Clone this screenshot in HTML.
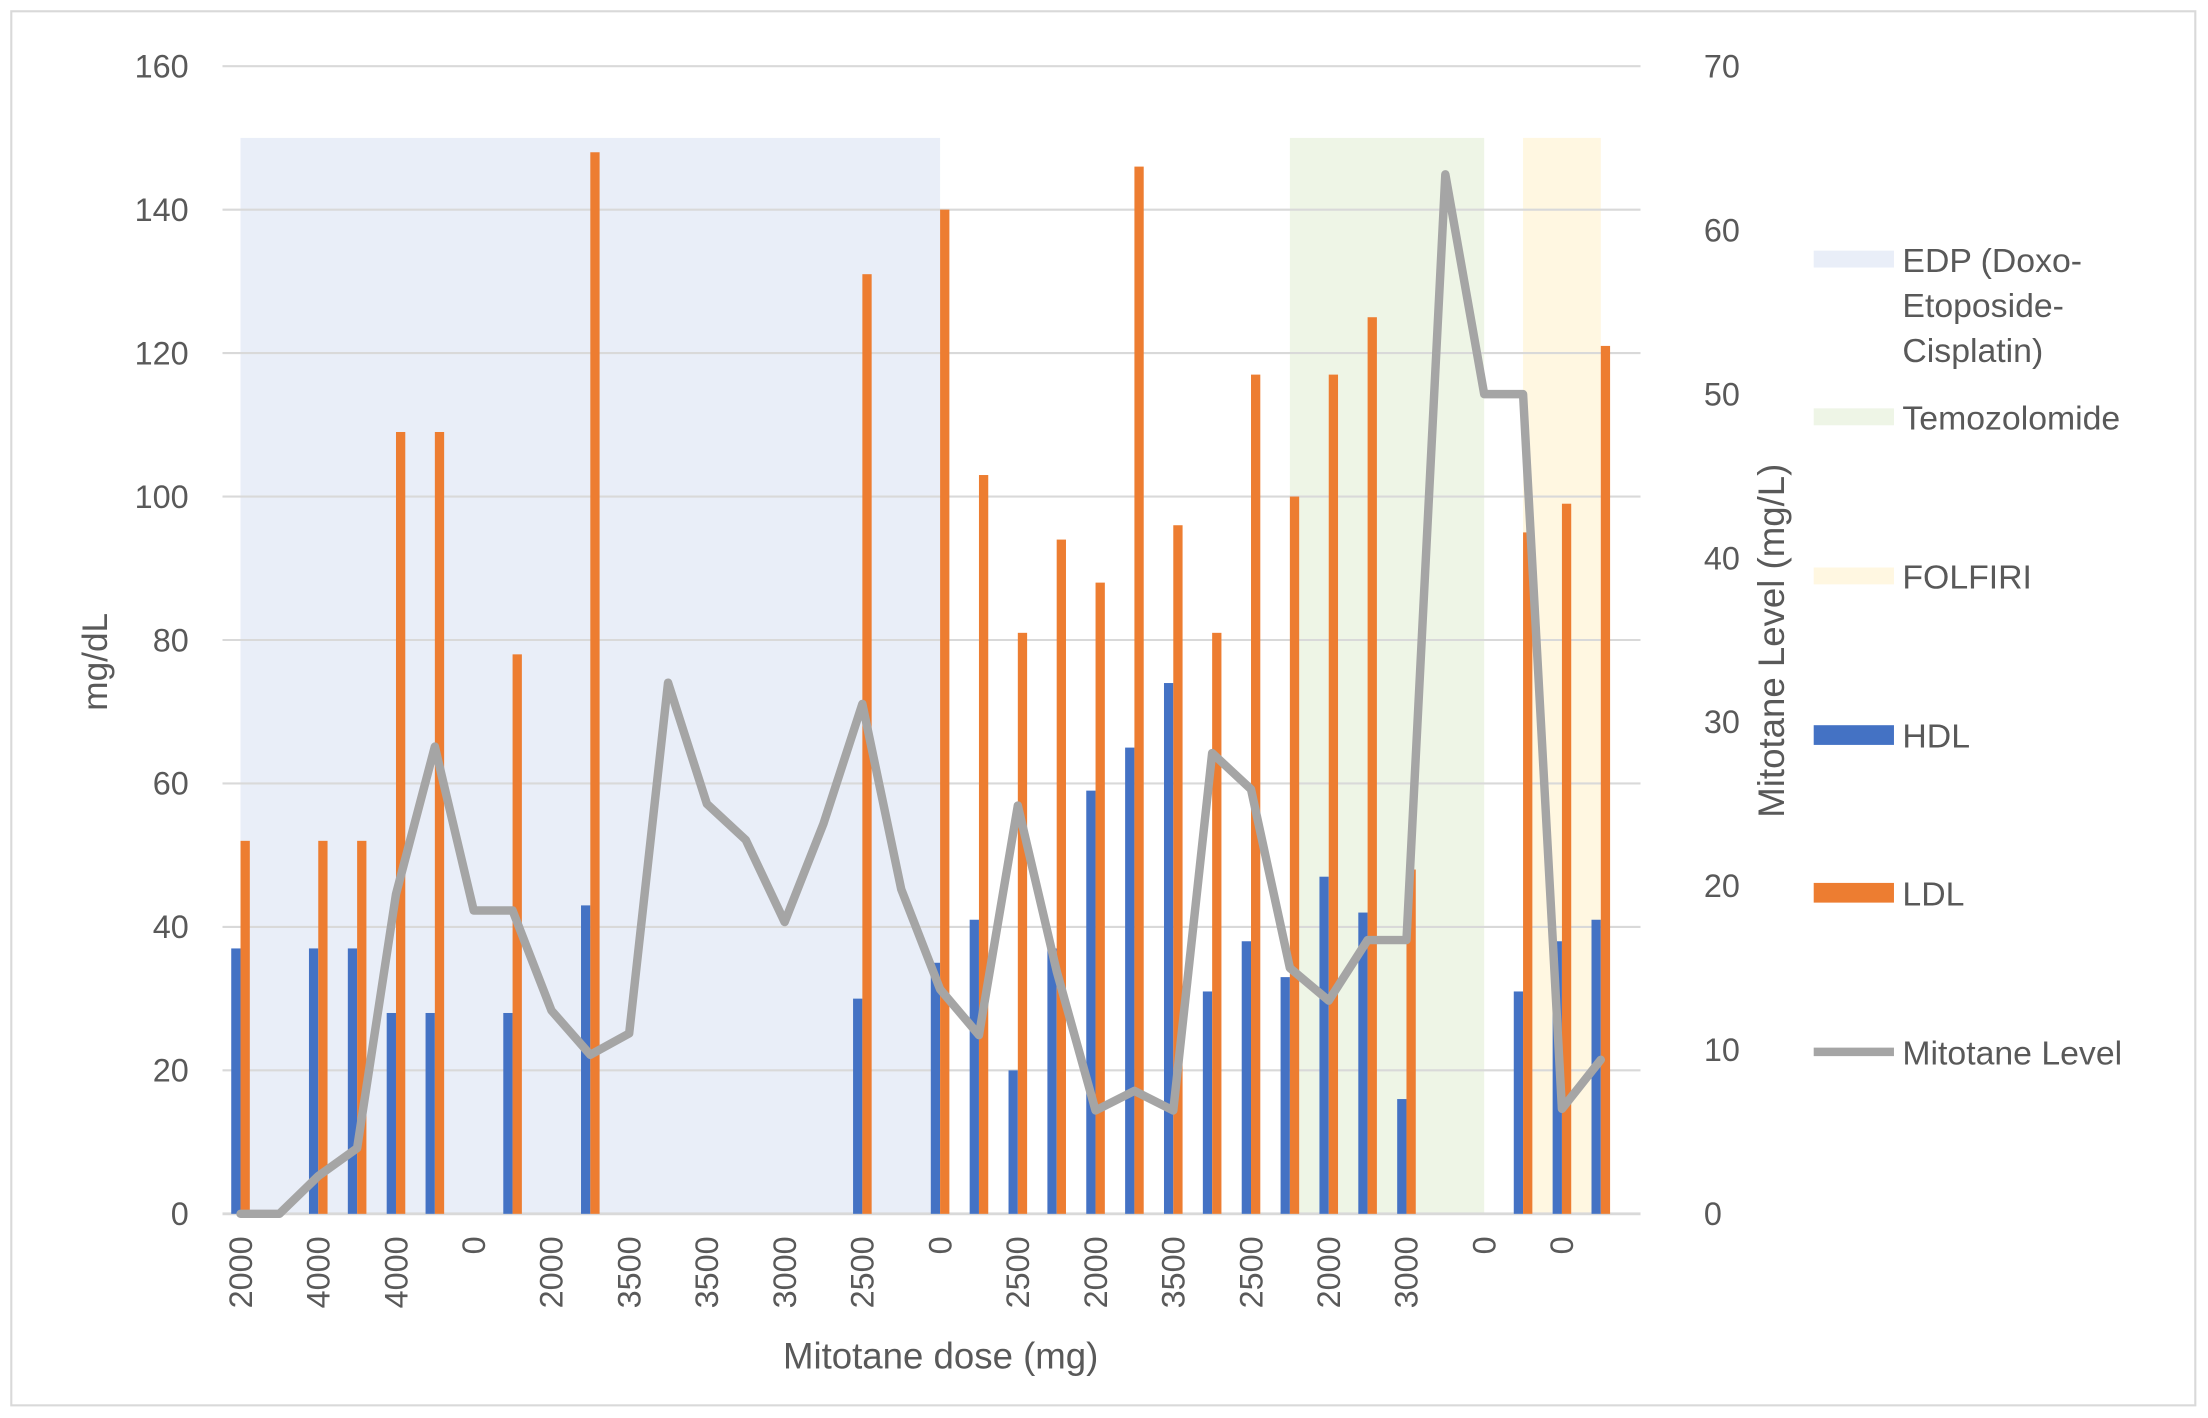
<!DOCTYPE html>
<html><head><meta charset="utf-8"><style>
html,body{margin:0;padding:0;background:#fff}
svg{display:block}
text{font-family:"Liberation Sans",sans-serif;fill:#595959}
</style></head><body>
<svg id="chart" width="2208" height="1418" viewBox="0 0 1568 1007" xmlns="http://www.w3.org/2000/svg">
<rect x="8" y="8" width="1551" height="990" fill="#fff" stroke="#d9d9d9" stroke-width="1.5"/>
<g id="bands"></g>
<g id="grid"></g>
<g id="bars"></g>
<g id="line"></g>
<g id="axes"></g>
<text transform="translate(76,470) rotate(-90)" text-anchor="middle" font-size="25">mg/dL</text>
<text transform="translate(1267,455) rotate(-90)" text-anchor="middle" font-size="26">Mitotane Level (mg/L)</text>
<text x="668" y="972" text-anchor="middle" font-size="26">Mitotane dose (mg)</text>
<g font-size="24">
 <g><rect x="1288" y="178" width="57" height="12" fill="#e9eef8"/><text x="1351" y="193">EDP (Doxo-</text><text x="1351" y="225">Etoposide-</text><text x="1351" y="257">Cisplatin)</text></g>
 <g><rect x="1288" y="290" width="57" height="12" fill="#eef5e6"/><text x="1351" y="305">Temozolomide</text></g>
 <g><rect x="1288" y="403" width="57" height="12" fill="#fff7e1"/><text x="1351" y="418">FOLFIRI</text></g>
 <g><rect x="1288" y="515" width="57" height="14" fill="#4472c4"/><text x="1351" y="531">HDL</text></g>
 <g><rect x="1288" y="627" width="57" height="14" fill="#ed7d31"/><text x="1351" y="643">LDL</text></g>
 <g><line x1="1288" y1="747" x2="1345" y2="747" stroke="#a5a5a5" stroke-width="6"/><text x="1351" y="756">Mitotane Level</text></g>
</g>
</svg>
<script>
const doseLabels = ["2000","","4000","","4000","","0","","2000","","3500","","3500","","3000","","2500","","0","","2500","","2000","","3500","","2500","","2000","","3000","","0","","0",""];
const hdl = [37,null,37,37,28,28,null,28,null,43,null,null,null,null,null,null,30,null,35,41,20,37,59,65,74,31,38,33,47,42,16,null,null,31,38,41];
const ldl = [52,null,52,52,109,109,null,78,null,148,null,null,null,null,null,null,131,null,140,103,81,94,88,146,96,81,117,100,117,125,48,null,null,95,99,121];
const mitotane = [0,0,2.3,4,19.5,28.5,18.5,18.5,12.4,9.7,11,32.4,25,22.8,17.8,23.8,31.1,19.8,13.7,10.9,24.9,14.8,6.3,7.5,6.3,28.1,25.9,15,13,16.7,16.7,63.4,50,50,6.4,9.4];
const bandNames = ["edp-band","temozolomide-band","folfiri-band"];
const bandStart = [0,27,33];
const bandEnd = [18,32,35];
const bandValue = [150,150,150];
const bandColors = ["#e9eef8","#eef5e6","#fff7e1"];
const leftTicks = [0,20,40,60,80,100,120,140,160];
const rightTicks = [0,10,20,30,40,50,60,70];

const NS="http://www.w3.org/2000/svg";
const X0=157, CW=27.6, Y0=862, Y1=47;
const xC=i=>X0+(i+0.5)*CW;
const yL=v=>Y0-(v/160)*(Y0-Y1);
const yR=v=>Y0-(v/70)*(Y0-Y1);
function mk(tag,attrs,parent){const e=document.createElementNS(NS,tag);for(const k in attrs)e.setAttribute(k,attrs[k]);parent.appendChild(e);return e;}

const gB=document.getElementById('bands');
bandStart.forEach((s,i)=>{
  const r=mk('rect',{x:xC(s),y:yL(bandValue[i]),width:xC(bandEnd[i])-xC(s),height:Y0-yL(bandValue[i]),fill:bandColors[i]},gB);
  
  
});
const gG=document.getElementById('grid');
leftTicks.forEach(v=>{
  const l=mk('line',{x1:158,x2:1165,y1:yL(v),y2:yL(v),stroke:'#d9d9d9','stroke-width':v===0?2:1.5},gG);
  
  
});
const gA=document.getElementById('axes');
leftTicks.forEach(v=>{
  const t=mk('text',{x:134,y:yL(v)+8,'text-anchor':'end','font-size':23},gA);t.textContent=v;
  
  
});
rightTicks.forEach(v=>{
  const t=mk('text',{x:1210,y:yR(v)+8,'text-anchor':'start','font-size':23},gA);t.textContent=v;
  
  
});
doseLabels.forEach((s,i)=>{
  if(!s)return;
  const x=xC(i)+8;
  const t=mk('text',{transform:`translate(${x},878) rotate(-90)`,'text-anchor':'end','font-size':23},gA);t.textContent=s;
  
  
});
const gBar=document.getElementById('bars');
const BW=6.6;
hdl.forEach((v,i)=>{
  if(v==null)return;
  const r=mk('rect',{x:xC(i)-BW,y:yL(v),width:BW,height:Y0-yL(v),fill:'#4472c4'},gBar);
  
  
});
ldl.forEach((v,i)=>{
  if(v==null)return;
  const r=mk('rect',{x:xC(i),y:yL(v),width:BW,height:Y0-yL(v),fill:'#ed7d31'},gBar);
  
  
});
const gL=document.getElementById('line');
const pts=mitotane.map((v,i)=>xC(i).toFixed(1)+','+yR(v).toFixed(1)).join(' ');
const pl=mk('polyline',{points:pts,fill:'none',stroke:'#a5a5a5','stroke-width':6,'stroke-linejoin':'round','stroke-linecap':'round'},gL);


</script>
</body></html>
